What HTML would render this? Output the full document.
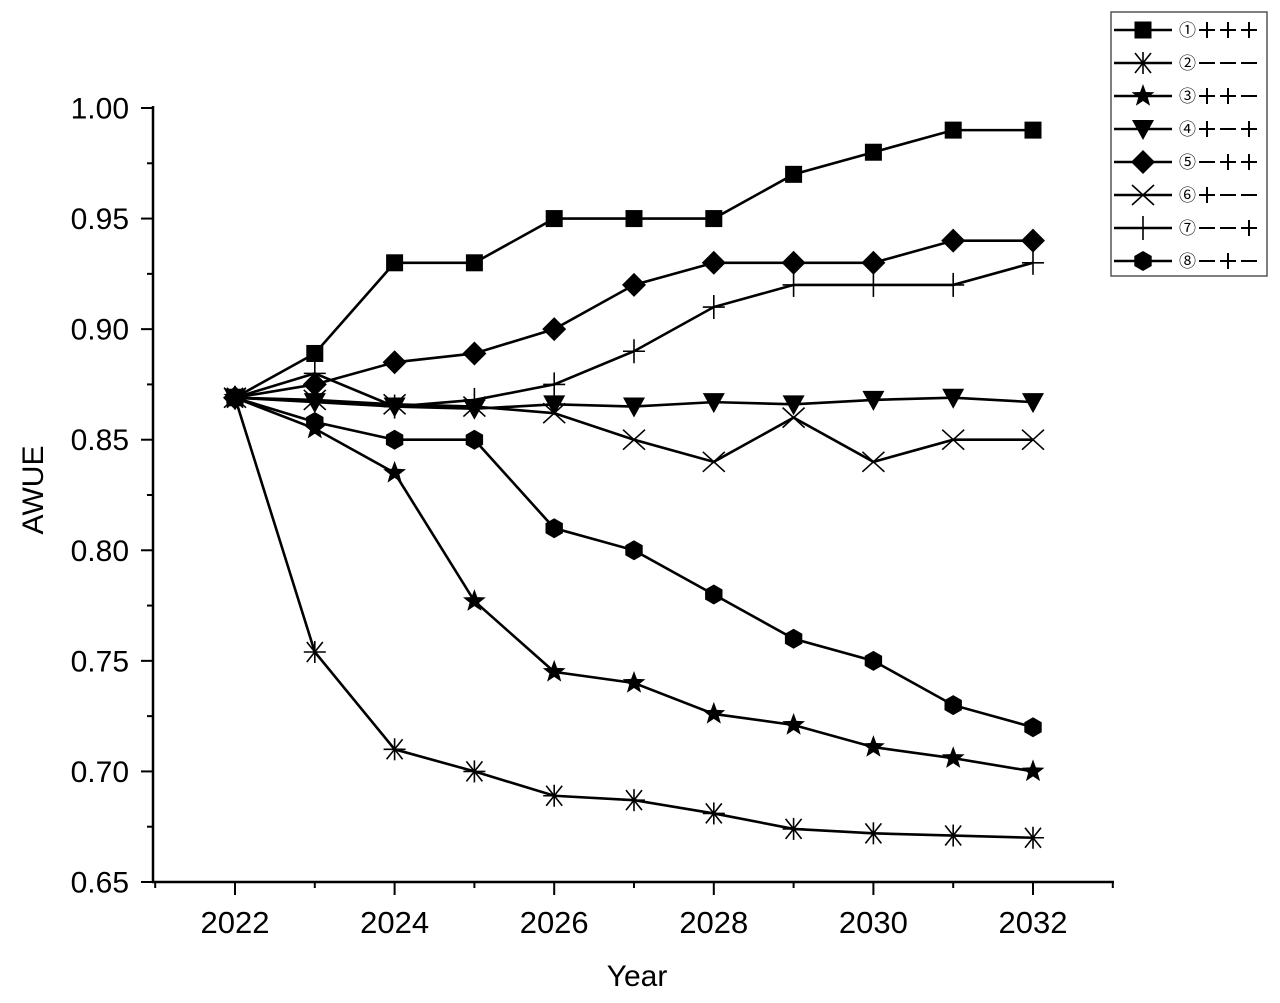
<!DOCTYPE html>
<html><head><meta charset="utf-8"><style>
html,body{margin:0;padding:0;background:#fff;}
svg text{font-family:"Liberation Sans","Noto Sans CJK JP",sans-serif;fill:#000;}
</style></head><body>
<svg id="s" width="1280" height="998" xmlns="http://www.w3.org/2000/svg"></svg>
<script>
const s=document.getElementById('s');let h='';
const X=y=>235+(y-2022)*79.8, Y=v=>108+(1-v)*2211.4;
h+='<line x1="153" y1="106" x2="153" y2="883" stroke="#000" stroke-width="2.5"/>';
h+='<line x1="152" y1="882" x2="1114" y2="882" stroke="#000" stroke-width="2.5"/>';
for(let i=0;i<=14;i++){const v=0.65+i*0.025,y=Y(v);const maj=i%2==0;
 h+=`<line x1="${maj?141:147}" y1="${y}" x2="153" y2="${y}" stroke="#000" stroke-width="2"/>`;
 if(maj)h+=`<text x="129" y="${y+10.5}" font-size="30" text-anchor="end">${v.toFixed(2)}</text>`;}
for(let yr=2021;yr<=2033;yr++){const x=X(yr);if(x>1114)continue;const maj=yr%2==0;
 h+=`<line x1="${x}" y1="882" x2="${x}" y2="${maj?895:888}" stroke="#000" stroke-width="2"/>`;
 if(maj)h+=`<text x="${x}" y="933" font-size="31" text-anchor="middle">${yr}</text>`;}
h+='<text x="637" y="986" font-size="30" text-anchor="middle">Year</text>';
h+='<text transform="translate(43,490) rotate(-90)" font-size="30" text-anchor="middle">AWUE</text>';
function mk(t,x,y){switch(t){
case 1:return `<rect x="${x-8.5}" y="${y-8.5}" width="17" height="17"/>`;
case 2:return `<g stroke="#000" stroke-width="1.6"><line x1="${x-11}" y1="${y}" x2="${x+11}" y2="${y}"/><line x1="${x-8}" y1="${y-10}" x2="${x+8}" y2="${y+10}"/><line x1="${x-8}" y1="${y+10}" x2="${x+8}" y2="${y-10}"/><line x1="${x}" y1="${y-11}" x2="${x}" y2="${y+11}"/></g>`;
case 3:{let p=[];for(let i=0;i<10;i++){const r=i%2?5:12,a=-Math.PI/2+i*Math.PI/5;p.push((x+r*Math.cos(a)).toFixed(1)+','+(y+r*Math.sin(a)).toFixed(1));}return `<polygon points="${p.join(' ')}"/>`;}
case 4:return `<polygon points="${x-11},${y-9} ${x+11},${y-9} ${x},${y+11}"/>`;
case 5:return `<polygon points="${x},${y-12} ${x+12},${y} ${x},${y+12} ${x-12},${y}"/>`;
case 6:return `<g stroke="#000" stroke-width="1.6"><line x1="${x-11}" y1="${y-10}" x2="${x+11}" y2="${y+10}"/><line x1="${x-11}" y1="${y+10}" x2="${x+11}" y2="${y-10}"/></g>`;
case 7:return `<g stroke="#000" stroke-width="1.6"><line x1="${x-11}" y1="${y}" x2="${x+11}" y2="${y}"/><line x1="${x}" y1="${y-12}" x2="${x}" y2="${y+12}"/></g>`;
case 8:{let p=[];for(let i=0;i<6;i++){const a=Math.PI/6+i*Math.PI/3;p.push((x+10*Math.cos(a)).toFixed(1)+','+(y+10*Math.sin(a)).toFixed(1));}return `<polygon points="${p.join(' ')}"/>`;}}}
const D={1:[.869,.889,.93,.93,.95,.95,.95,.97,.98,.99,.99],
2:[.869,.754,.71,.70,.689,.687,.681,.674,.672,.671,.67],
3:[.869,.855,.835,.777,.745,.74,.726,.721,.711,.706,.70],
4:[.869,.867,.865,.864,.866,.865,.867,.866,.868,.869,.867],
5:[.869,.875,.885,.889,.90,.92,.93,.93,.93,.94,.94],
6:[.869,.868,.866,.865,.862,.85,.84,.86,.84,.85,.85],
7:[.869,.88,.865,.868,.875,.89,.91,.92,.92,.92,.93],
8:[.869,.858,.85,.85,.81,.80,.78,.76,.75,.73,.72]};
for(let k=1;k<=8;k++){const d=D[k];h+=`<polyline fill="none" stroke="#000" stroke-width="2.6" points="${d.map((v,i)=>X(2022+i)+','+Y(v)).join(' ')}"/>`;
 d.forEach((v,i)=>h+=mk(k,X(2022+i),Y(v)));}
h+='<rect x="1111" y="12" width="156" height="264" fill="#fff" stroke="#555" stroke-width="1.5"/>';
const N=['①','②','③','④','⑤','⑥','⑦','⑧'];
const S=[['+','+','+'],['−','−','−'],['+','+','−'],['+','−','+'],['−','+','+'],['+','−','−'],['−','−','+'],['−','+','−']];
S.forEach((sg,i)=>{const y=30+i*33;h+=`<line x1="1114" y1="${y}" x2="1172" y2="${y}" stroke="#000" stroke-width="2.5"/>`+mk(i+1,1143,y)+`<text x="1179" y="${y+6}" font-size="17">${N[i]}</text>`;
 sg.forEach((c,j)=>{const cx=1207+j*21;
  h+=`<line x1="${cx-8}" y1="${y}" x2="${cx+8}" y2="${y}" stroke="#000" stroke-width="2"/>`;
  if(c=='+')h+=`<line x1="${cx}" y1="${y-8}" x2="${cx}" y2="${y+8}" stroke="#000" stroke-width="2"/>`;});});
s.innerHTML=h;
</script>
</body></html>
